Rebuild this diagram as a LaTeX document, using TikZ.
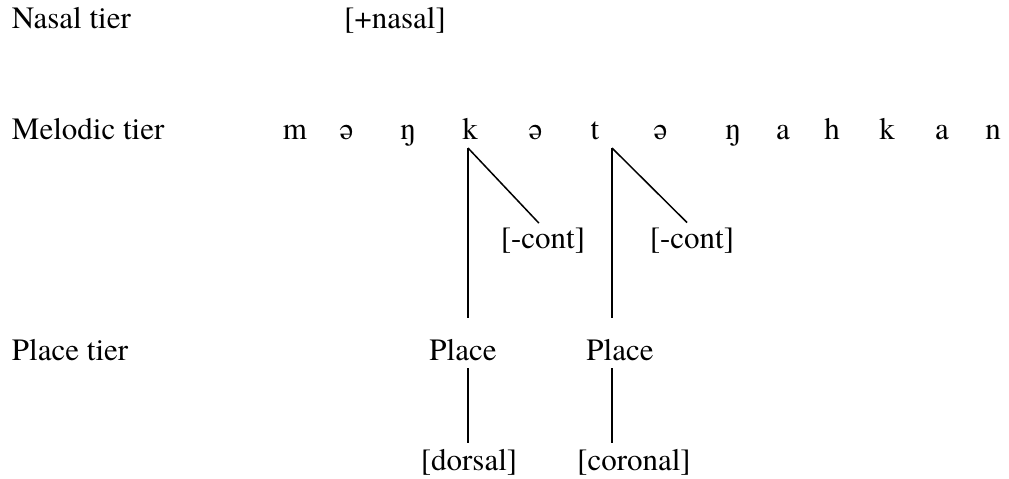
\documentclass[tikz,border=0pt]{standalone}
\usepackage{fontspec}
\setmainfont{TeX Gyre Termes}
\usetikzlibrary{positioning,calc}

\begin{document}
\begin{tikzpicture}[
    x=1pt, y=-1pt,
    tier/.style={inner sep=0, outer sep=0, anchor=base west, font=\fontsize{31}{36}\selectfont},
    seg/.style={inner sep=0, outer sep=0, anchor=base, font=\fontsize{31}{36}\selectfont},
    feat/.style={inner sep=0, outer sep=0, anchor=base, font=\fontsize{31}{36}\selectfont},
    link/.style={line width=1.5pt}
]
    \useasboundingbox (0,0) rectangle (1009,479);

    % tier labels
    \node [tier] (nasaltier) at (12,28) {Nasal tier};
    \node [tier] (meltier) at (12,139) {Melodic tier};
    \node [tier] (placetier) at (12,360) {Place tier};

    \node [feat] (nasal) at (395,28) {[+nasal]};

    % melodic segments
    \node [seg] (m1) at (295,139) {m};
    \node [seg] (e1) at (346,139) {ə};
    \node [seg] (ng1) at (408,139) {ŋ};
    \node [seg] (k1) at (470,139) {k};
    \node [seg] (e2) at (535,139) {ə};
    \node [seg] (t1) at (595,139) {t};
    \node [seg] (e3) at (660,139) {ə};
    \node [seg] (ng2) at (733,139) {ŋ};
    \node [seg] (a1) at (783,139) {a};
    \node [seg] (h1) at (832,139) {h};
    \node [seg] (k2) at (887,139) {k};
    \node [seg] (a2) at (942,139) {a};
    \node [seg] (n1) at (993,139) {n};

    \coordinate (kroot) at (468,148);
    \coordinate (troot) at (612,148);

    \node [feat] (cont1) at (543,248) {[-cont]};
    \node [feat] (cont2) at (692,248) {[-cont]};

    \node [feat] (place1) at (463,360) {Place};
    \node [feat] (place2) at (620,360) {Place};

    \node [feat] (dorsal) at (469,470) {[dorsal]};
    \node [feat] (coronal) at (634,470) {[coronal]};

    \draw [link, shorten >=6pt] (kroot) -- (cont1.north);
    \draw [link, shorten >=7pt] (troot) -- (cont2.north);
    \draw [link, shorten >=21pt] (kroot) -- (kroot |- place1.north);
    \draw [link, shorten >=21pt] (troot) -- (troot |- place2.north);
    \draw [link, shorten <=8pt, shorten >=6pt] (kroot |- place1.south) -- (kroot |- dorsal.north);
    \draw [link, shorten <=8pt, shorten >=6pt] (troot |- place2.south) -- (troot |- coronal.north);
\end{tikzpicture}
\end{document}
